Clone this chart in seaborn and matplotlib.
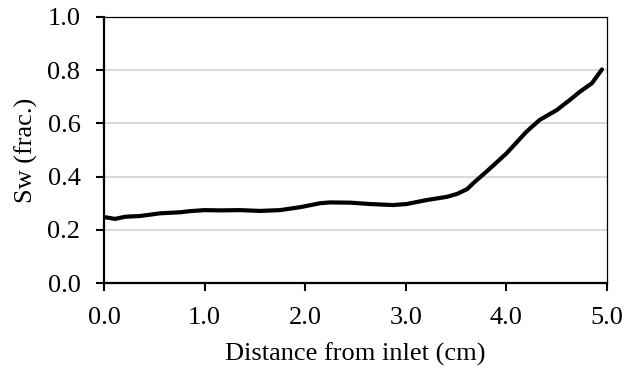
import matplotlib
matplotlib.use("Agg")
import matplotlib.pyplot as plt
import seaborn as sns
import pandas as pd

# Water saturation profile along the core
distance_cm = [0.0, 0.11, 0.21, 0.36, 0.56, 0.76, 0.85, 1.0, 1.15, 1.35, 1.55, 1.75,
               1.95, 2.15, 2.25, 2.45, 2.64, 2.87, 3.01, 3.21, 3.41, 3.51, 3.61, 3.67,
               3.8, 4.0, 4.2, 4.33, 4.5, 4.63, 4.73, 4.85, 4.95]
sw_frac = [0.248, 0.241, 0.249, 0.252, 0.262, 0.266, 0.270, 0.274, 0.273, 0.274, 0.271, 0.274,
           0.285, 0.300, 0.303, 0.302, 0.297, 0.293, 0.297, 0.312, 0.324, 0.335, 0.353, 0.375,
           0.418, 0.487, 0.569, 0.613, 0.650, 0.688, 0.719, 0.751, 0.803]
x_ticks = [0.0, 1.0, 2.0, 3.0, 4.0, 5.0]
y_ticks = [0.0, 0.2, 0.4, 0.6, 0.8, 1.0]

df = pd.DataFrame({"Distance": distance_cm, "Sw": sw_frac})

sns.set_theme(style="white")
plt.rcParams["font.family"] = ["Liberation Serif", "DejaVu Serif"]

fig = plt.figure(figsize=(6.38, 3.69), dpi=100)
ax = fig.add_axes([104 / 638, 1 - 283 / 369, (607 - 104) / 638, (283 - 17) / 369])

ax.yaxis.grid(True, color="#d9d9d9", linewidth=1.5, zorder=0)
ax.set_axisbelow(True)

sns.lineplot(data=df, x="Distance", y="Sw", ax=ax, color="black", linewidth=3.0,
             solid_capstyle="round", solid_joinstyle="round", zorder=3)

ax.set_xlim(0, 5)
ax.set_ylim(0, 1)
ax.set_xticks(x_ticks)
ax.set_xticklabels([f"{v:.1f}" for v in x_ticks])
ax.set_yticks(y_ticks)
ax.set_yticklabels([f"{v:.1f}" for v in y_ticks])

for side in ["left", "bottom"]:
    ax.spines[side].set_linewidth(1.6)
    ax.spines[side].set_color("black")
for side in ["top", "right"]:
    ax.spines[side].set_linewidth(0.9)
    ax.spines[side].set_color("black")

ax.tick_params(axis="both", which="major", direction="out", length=6, width=1.5,
               color="black", labelsize=19, labelcolor="black",
               bottom=True, left=True)
ax.tick_params(axis="x", pad=11)
ax.tick_params(axis="y", pad=11)

ax.set_xlabel("Distance from inlet (cm)", fontsize=19, color="black", labelpad=10)
ax.set_ylabel("Sw (frac.)", fontsize=19, color="black", labelpad=7)

fig.savefig("out.png", dpi=100, facecolor="white")
